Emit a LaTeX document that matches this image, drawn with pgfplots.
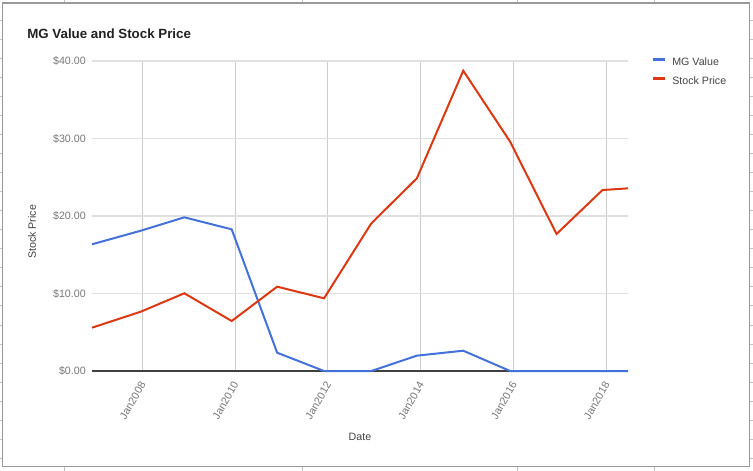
\documentclass[border=0pt]{standalone}
\usepackage{pgfplots}
\pgfplotsset{compat=1.18}
\usepackage{fontspec}
\setmainfont{Liberation Sans}
\definecolor{mgblue}{HTML}{4472DA}
\definecolor{spred}{HTML}{DC3912}
\definecolor{tickgray}{HTML}{777777}
\definecolor{labgray}{HTML}{444444}
\definecolor{framegray}{HTML}{9A9A9A}
\begin{document}
\begin{tikzpicture}
\begin{scope}[x=0.75pt,y=-0.75pt]
\path[use as bounding box,fill=white] (0,0) rectangle (753,471);
% spreadsheet cell marks outside the frame
\foreach \yy in {20.1,39.1,58.2,77.2,96.3,115.3,134.4,153.4,172.5,191.5,210.6,229.6,248.7,267.7,286.8,305.8,324.9,343.9,363.0,382.0,401.1,420.1,439.2,458.2}{
  \draw[framegray!60,line width=0.5pt] (0,\yy) -- (2,\yy);
  \draw[framegray!60,line width=0.5pt] (750,\yy) -- (753,\yy);
}
\foreach \xx in {64,302,517,654}{
  \draw[framegray!60,line width=0.5pt] (\xx,0) -- (\xx,2);
  \draw[framegray!60,line width=0.5pt] (\xx,467) -- (\xx,471);
}
\draw[framegray,line width=1pt] (2.5,3) rectangle (749.3,466.5);
% titles
\node[anchor=west,font=\bfseries\fontsize{10}{12}\selectfont,text=black!87,inner sep=0pt] at (27,33.5) {MG Value and Stock Price};
\node[rotate=90,font=\fontsize{8}{10}\selectfont,text=labgray,inner sep=0pt] at (32,232) {Stock Price};
\node[font=\fontsize{8}{10}\selectfont,text=labgray,inner sep=0pt] at (360,437) {Date};
\end{scope}
\begin{axis}[
  at={(69pt,-278.25pt)}, anchor=south west,
  scale only axis, width=402pt, height=232.5pt,
  xmin=2006.92, xmax=2018.47, ymin=0, ymax=40,
  axis line style={draw=none},
  major tick length=0pt,
  xtick={2008,2010,2012,2014,2016,2018},
  xticklabels={Jan2008,Jan2010,Jan2012,Jan2014,Jan2016,Jan2018},
  ytick={0,10,20,30,40},
  yticklabels={\$0.00,\$10.00,\$20.00,\$30.00,\$40.00},
  xmajorgrids, ymajorgrids,
  x grid style={color=black!20,line width=0.6pt},
  y grid style={color=black!12,line width=0.9pt},
  tick label style={font=\fontsize{8}{10}\selectfont,text=tickgray},
  yticklabel style={anchor=east,inner sep=0pt,xshift=-4.5pt},
  xticklabel style={rotate=60,anchor=east,inner sep=0pt,yshift=-4.9pt,xshift=-7.2pt},
  legend style={draw=none,fill=none,at={(1.043,1.013)},anchor=north west,inner sep=0pt,
    font=\fontsize{8}{10}\selectfont,text=labgray,row sep=6.75pt,
    nodes={inner sep=0pt,text height=6pt,text depth=1.5pt},
    /tikz/every odd column/.append style={column sep=4.5pt}},
  legend cell align=left,
  legend image code/.code={\draw[#1,line width=2.25pt] (0pt,2.2pt) -- (9pt,2.2pt);},
  clip=false,
]
\draw[black!75,line width=0.9pt] (axis cs:2006.92,0) -- (axis cs:2018.47,0);
\addplot[mgblue,line width=1.5pt] coordinates {
(2006.92,16.35) (2007.97,18.1) (2008.91,19.83) (2009.93,18.28) (2010.91,2.36)
(2011.92,0) (2012.94,0) (2013.92,1.98) (2014.92,2.62) (2015.93,0)
(2016.93,0) (2017.92,0) (2018.47,0)};
\addlegendentry{MG Value}
\addplot[spred,line width=1.5pt] coordinates {
(2006.92,5.59) (2007.97,7.65) (2008.91,10.03) (2009.93,6.45) (2010.91,10.88)
(2011.92,9.38) (2012.94,19.06) (2013.92,24.86) (2014.92,38.75) (2015.93,29.59)
(2016.93,17.68) (2017.92,23.35) (2018.47,23.57)};
\addlegendentry{Stock Price}
\end{axis}
\end{tikzpicture}
\end{document}
